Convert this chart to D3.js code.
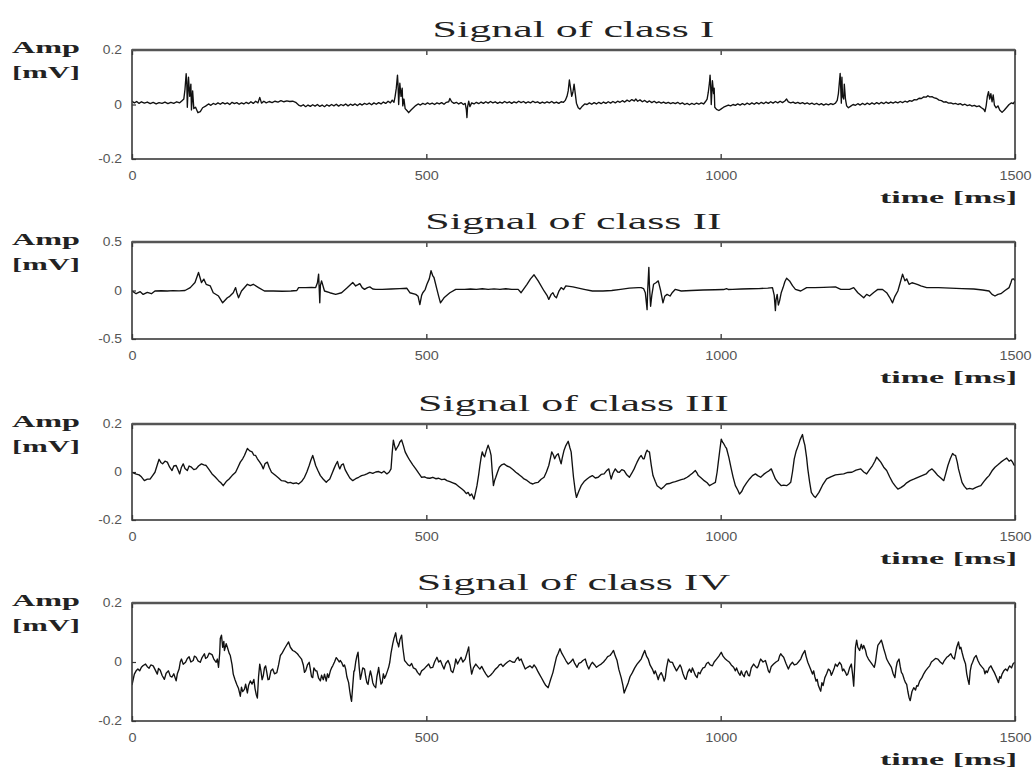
<!DOCTYPE html>
<html><head><meta charset="utf-8">
<script src="https://cdn.jsdelivr.net/npm/d3@7"></script>
<style>body{margin:0;background:#fff}svg{display:block}</style>
</head><body><svg id="c" width="1035" height="768"></svg>
<script>
// ---------- DATA ----------
const titles = ["Signal of class I", "Signal of class II", "Signal of class III", "Signal of class IV"];
const yLabelTop = "Amp";
const yLabelUnit = "[mV]";
const xLabel = "time [ms]";
const xTicks = [0, 500, 1000, 1500];
const xTickLabels = ["0", "500", "1000", "1500"];
const yDomains = [[-0.2, 0.2], [-0.5, 0.5], [-0.2, 0.2], [-0.2, 0.2]];
const yTicks = [[-0.2, 0, 0.2], [-0.5, 0, 0.5], [-0.2, 0, 0.2], [-0.2, 0, 0.2]];
const yTickLabels = [["-0.2", "0", "0.2"], ["-0.5", "0", "0.5"], ["-0.2", "0", "0.2"], ["-0.2", "0", "0.2"]];

// [time ms, amplitude mV]
const signalI = [[0,0.012],[4,0.006],[8,0.011],[12,0.004],[16,0.01],[21,0.005],[26,0.009],[31,0.003],[36,0.008],[41,0.002],[46,0.007],[51,0.004],[56,0.009],[61,0.003],[66,0.008],[71,0.004],[76,0.01],[81,0.006],[85,0.014],[88,0.02],[90,0.055],[92,0.113],[93,0.085],[94,-0.01],[96,0.1],[98,0.03],[100,0.075],[101,-0.02],[103,0.05],[105,-0.015],[108,-0.01],[112,-0.03],[116,-0.026],[120,-0.012],[125,-0.006],[130,0.002],[134,-0.003],[138,0.004],[142,0.0],[146,0.006],[150,0.001],[154,0.007],[158,0.002],[162,0.006],[166,0.0],[170,0.008],[174,0.003],[178,0.007],[182,0.001],[186,0.006],[190,0.002],[194,0.008],[198,0.003],[202,0.01],[206,0.004],[210,0.012],[214,0.006],[217,0.026],[220,0.005],[224,0.012],[228,0.006],[233,0.011],[238,0.007],[243,0.012],[248,0.009],[253,0.014],[258,0.01],[263,0.013],[268,0.011],[273,0.012],[278,0.008],[283,-0.002],[287,-0.006],[291,-0.001],[295,-0.008],[299,-0.002],[303,-0.007],[307,-0.001],[311,-0.006],[315,0.0],[319,-0.007],[323,-0.002],[327,-0.008],[331,-0.001],[335,-0.006],[339,0.0],[343,-0.005],[347,0.001],[351,-0.006],[355,0.0],[359,-0.004],[363,0.002],[367,-0.005],[371,0.001],[375,-0.003],[379,0.002],[383,-0.004],[387,0.003],[391,-0.002],[395,0.004],[399,0.0],[403,0.005],[407,-0.001],[411,0.006],[415,0.001],[419,0.007],[423,0.002],[427,0.009],[431,0.004],[435,0.012],[439,0.006],[442,0.016],[445,0.008],[447,0.03],[449,0.06],[451,0.108],[452,0.07],[453,0.0],[455,0.078],[457,0.03],[459,0.06],[460,-0.005],[462,0.02],[464,-0.015],[467,-0.022],[470,-0.03],[474,-0.02],[478,-0.012],[482,-0.004],[486,0.002],[490,-0.002],[494,0.004],[498,0.0],[502,0.006],[506,0.001],[510,0.005],[514,0.0],[518,0.006],[522,0.002],[526,0.007],[530,0.001],[534,0.008],[538,0.01],[540,0.022],[543,0.01],[547,0.004],[551,0.008],[555,0.002],[559,0.007],[563,0.0],[566,0.004],[568,-0.02],[569,-0.048],[570,-0.01],[572,0.012],[574,-0.008],[577,0.006],[581,0.002],[585,0.008],[589,0.003],[593,0.009],[597,0.004],[601,0.01],[605,0.005],[609,0.011],[613,0.006],[617,0.01],[621,0.004],[625,0.009],[629,0.005],[633,0.011],[637,0.006],[641,0.01],[645,0.004],[649,0.01],[653,0.006],[657,0.012],[661,0.007],[665,0.011],[669,0.005],[673,0.01],[677,0.006],[681,0.012],[685,0.007],[689,0.01],[693,0.004],[697,0.009],[701,0.005],[705,0.01],[709,0.006],[713,0.011],[717,0.005],[721,0.009],[725,0.004],[729,0.01],[733,0.008],[736,0.015],[739,0.03],[741,0.05],[743,0.09],[745,0.06],[747,0.03],[749,0.045],[751,0.075],[753,0.04],[755,0.005],[758,-0.012],[761,-0.017],[765,-0.006],[769,0.002],[773,0.0],[777,0.006],[781,0.001],[785,0.007],[789,0.002],[793,0.008],[797,0.003],[801,0.009],[805,0.004],[809,0.01],[813,0.005],[817,0.011],[821,0.006],[825,0.012],[829,0.008],[833,0.014],[837,0.009],[841,0.016],[845,0.011],[849,0.018],[853,0.013],[856,0.02],[859,0.012],[863,0.017],[867,0.01],[871,0.015],[875,0.008],[879,0.013],[883,0.007],[887,0.012],[891,0.006],[895,0.01],[899,0.005],[903,0.009],[907,0.004],[911,0.008],[915,0.003],[919,0.007],[923,0.003],[927,0.008],[931,0.002],[935,0.006],[939,0.0],[943,0.004],[947,-0.001],[951,0.004],[955,0.0],[959,0.005],[963,0.001],[967,0.006],[971,0.002],[974,0.01],[977,0.02],[979,0.045],[981,0.08],[982,0.108],[983,0.07],[984,0.0],[986,0.087],[988,0.04],[989,0.06],[990,-0.01],[993,-0.018],[997,-0.022],[1001,-0.016],[1005,-0.01],[1009,-0.006],[1013,-0.002],[1017,-0.005],[1021,0.0],[1025,-0.003],[1029,0.002],[1033,-0.002],[1037,0.003],[1041,-0.001],[1045,0.005],[1049,0.0],[1053,0.006],[1057,0.001],[1061,0.007],[1065,0.002],[1069,0.008],[1073,0.003],[1077,0.009],[1081,0.004],[1085,0.01],[1089,0.005],[1093,0.011],[1097,0.006],[1101,0.012],[1105,0.007],[1109,0.013],[1112,0.02],[1115,0.01],[1119,0.006],[1123,0.009],[1127,0.004],[1131,0.008],[1135,0.003],[1139,0.007],[1143,0.002],[1147,0.006],[1151,0.001],[1155,0.005],[1159,0.0],[1163,0.004],[1167,-0.001],[1171,0.003],[1175,-0.002],[1179,0.002],[1183,-0.001],[1187,0.003],[1191,0.0],[1195,0.005],[1198,0.015],[1200,0.04],[1202,0.09],[1203,0.114],[1204,0.06],[1205,0.005],[1206,0.1],[1207,0.03],[1209,0.02],[1210,0.075],[1212,0.02],[1214,-0.005],[1217,-0.012],[1221,-0.006],[1225,0.0],[1229,-0.003],[1233,0.003],[1237,-0.002],[1241,0.004],[1245,-0.001],[1249,0.005],[1253,0.0],[1257,0.006],[1261,0.001],[1265,0.007],[1269,0.002],[1273,0.008],[1277,0.003],[1281,0.009],[1285,0.004],[1289,0.009],[1293,0.005],[1297,0.01],[1301,0.006],[1305,0.011],[1309,0.007],[1313,0.012],[1317,0.009],[1321,0.014],[1325,0.012],[1329,0.018],[1333,0.017],[1337,0.023],[1341,0.022],[1345,0.028],[1349,0.027],[1352,0.032],[1355,0.028],[1359,0.029],[1363,0.024],[1367,0.022],[1371,0.016],[1375,0.014],[1379,0.009],[1383,0.01],[1387,0.005],[1391,0.006],[1395,0.002],[1399,0.004],[1403,0.0],[1407,0.003],[1411,-0.002],[1415,0.001],[1419,-0.004],[1423,-0.001],[1427,-0.006],[1431,-0.003],[1435,-0.008],[1439,-0.005],[1443,-0.012],[1447,-0.018],[1449,-0.026],[1451,-0.005],[1453,0.03],[1455,0.047],[1457,0.02],[1459,0.04],[1461,0.01],[1463,0.035],[1465,-0.002],[1468,-0.012],[1471,-0.005],[1474,-0.02],[1478,-0.029],[1482,-0.02],[1486,-0.01],[1490,0.0],[1494,0.006],[1497,0.003],[1500,0.012]];

const signalII = [[0,-0.005],[7,-0.033],[14,-0.012],[19,-0.04],[26,-0.019],[33,-0.033],[39,-0.005],[50,-0.003],[60,-0.005],[70,-0.002],[80,-0.004],[90,0.0],[99,0.03],[107,0.082],[113,0.186],[118,0.082],[122,0.117],[126,0.064],[133,0.047],[138,-0.023],[147,-0.057],[154,-0.127],[162,-0.075],[166,-0.06],[172,-0.023],[176,0.03],[178,-0.02],[181,-0.075],[186,-0.005],[196,0.064],[201,0.05],[206,0.064],[215,0.03],[225,-0.005],[240,-0.005],[255,-0.008],[270,-0.005],[280,0.0],[283,0.03],[295,0.03],[305,0.032],[312,0.03],[315,0.08],[317,0.169],[318,0.02],[319,-0.127],[320,0.05],[322,0.099],[327,-0.005],[336,-0.023],[346,-0.04],[356,-0.023],[366,0.03],[375,0.082],[380,0.047],[384,0.06],[387,0.071],[391,0.03],[395,0.012],[400,0.03],[404,0.037],[409,0.015],[414,0.012],[425,0.012],[440,0.015],[455,0.02],[467,0.023],[472,-0.023],[482,-0.04],[486,-0.06],[489,-0.145],[492,-0.05],[494,-0.023],[498,0.01],[501,0.064],[505,0.12],[508,0.204],[511,0.15],[513,0.134],[518,0.012],[521,-0.06],[524,-0.127],[530,-0.075],[540,-0.023],[550,0.012],[565,0.012],[575,0.015],[585,0.012],[595,0.018],[605,0.012],[615,0.016],[625,0.012],[635,0.018],[645,0.012],[656,0.012],[661,-0.023],[671,0.064],[677,0.12],[683,0.162],[690,0.099],[700,-0.005],[705,-0.05],[708,-0.092],[712,-0.04],[715,-0.023],[718,-0.06],[721,-0.075],[725,-0.01],[729,0.03],[733,0.01],[737,0.047],[749,0.037],[768,0.012],[782,-0.005],[800,-0.005],[815,0.0],[830,0.012],[845,0.025],[860,0.03],[865,0.03],[869,0.02],[872,-0.023],[875,-0.197],[876,0.0],[878,0.239],[879,0.05],[881,-0.162],[883,-0.05],[886,0.064],[890,0.08],[894,0.099],[898,0.0],[902,-0.127],[905,-0.06],[909,-0.04],[914,-0.057],[918,-0.02],[923,0.012],[933,-0.005],[950,0.0],[970,0.005],[990,0.008],[1005,0.01],[1010,0.02],[1013,0.01],[1020,0.012],[1035,0.015],[1050,0.018],[1065,0.02],[1080,0.025],[1088,0.03],[1091,-0.05],[1093,-0.207],[1094,-0.1],[1096,-0.04],[1098,-0.15],[1100,-0.11],[1103,-0.02],[1106,0.03],[1109,0.09],[1112,0.127],[1117,0.099],[1122,0.05],[1127,0.012],[1136,-0.005],[1146,0.03],[1160,0.03],[1175,0.032],[1195,0.037],[1204,0.012],[1219,0.012],[1226,0.03],[1233,-0.023],[1243,-0.075],[1248,-0.04],[1253,-0.057],[1260,-0.02],[1267,0.012],[1275,0.01],[1282,-0.023],[1287,-0.07],[1292,-0.127],[1296,-0.06],[1301,-0.005],[1305,0.08],[1309,0.169],[1313,0.099],[1316,0.12],[1320,0.064],[1325,0.08],[1330,0.071],[1335,0.06],[1340,0.047],[1350,0.03],[1370,0.03],[1390,0.025],[1410,0.02],[1430,0.015],[1445,0.005],[1456,-0.005],[1461,-0.04],[1466,-0.057],[1471,-0.04],[1476,-0.033],[1483,0.0],[1490,0.03],[1493,0.08],[1495,0.117],[1498,0.12],[1500,0.099]];

const signalIII = [[0,-0.001],[6,-0.008],[12,-0.012],[16,-0.02],[21,-0.036],[26,-0.03],[31,-0.029],[35,-0.015],[39,-0.001],[43,0.03],[46,0.053],[49,0.04],[52,0.034],[56,0.045],[60,0.041],[64,0.02],[68,0.006],[71,0.025],[75,0.027],[78,0.01],[81,-0.008],[84,0.02],[87,0.034],[90,0.015],[94,0.006],[97,0.025],[101,0.02],[105,0.01],[109,0.013],[113,0.025],[118,0.034],[122,0.03],[126,0.027],[131,0.01],[136,-0.008],[141,-0.02],[147,-0.036],[151,-0.045],[155,-0.057],[160,-0.04],[165,-0.029],[170,-0.015],[176,-0.001],[180,0.02],[184,0.041],[188,0.055],[191,0.069],[196,0.098],[200,0.088],[204,0.084],[207,0.07],[210,0.069],[213,0.055],[217,0.041],[220,0.03],[223,0.013],[226,0.035],[230,0.041],[233,0.02],[237,-0.001],[244,-0.015],[249,-0.025],[254,-0.036],[260,-0.038],[265,-0.045],[269,-0.043],[274,-0.048],[279,-0.045],[283,-0.05],[288,-0.04],[293,-0.022],[297,0.0],[301,0.027],[304,0.05],[307,0.069],[310,0.045],[312,0.027],[316,0.005],[320,-0.015],[325,-0.03],[330,-0.043],[333,-0.035],[336,-0.029],[340,-0.005],[343,0.013],[346,0.03],[349,0.044],[351,0.025],[353,0.013],[356,0.03],[359,0.034],[362,0.01],[366,-0.008],[370,-0.025],[375,-0.036],[380,-0.028],[385,-0.022],[390,-0.015],[395,-0.012],[399,-0.008],[404,-0.002],[409,-0.006],[414,0.0],[419,0.002],[424,-0.004],[428,0.003],[433,-0.008],[437,0.0],[440,0.013],[442,0.08],[444,0.133],[446,0.11],[448,0.091],[450,0.1],[453,0.112],[455,0.125],[458,0.133],[461,0.11],[464,0.084],[468,0.065],[472,0.048],[477,0.03],[482,0.013],[487,-0.005],[492,-0.022],[497,-0.02],[501,-0.025],[506,-0.026],[511,-0.022],[516,-0.028],[521,-0.026],[526,-0.032],[531,-0.03],[535,-0.036],[540,-0.04],[545,-0.045],[550,-0.05],[555,-0.06],[560,-0.07],[564,-0.078],[568,-0.09],[571,-0.085],[574,-0.099],[577,-0.092],[581,-0.113],[584,-0.08],[586,-0.057],[589,-0.01],[591,0.027],[593,0.06],[595,0.084],[597,0.07],[599,0.063],[602,0.09],[605,0.112],[608,0.09],[610,0.069],[612,0.0],[614,-0.057],[616,-0.035],[618,-0.022],[621,0.0],[624,0.02],[628,0.03],[632,0.034],[637,0.025],[642,0.02],[647,0.01],[652,-0.001],[657,-0.01],[662,-0.02],[666,-0.029],[671,-0.035],[676,-0.045],[681,-0.05],[685,-0.045],[690,-0.043],[695,-0.03],[700,-0.022],[704,0.0],[708,0.027],[711,0.06],[713,0.084],[716,0.07],[718,0.055],[721,0.07],[724,0.076],[727,0.05],[729,0.034],[731,0.06],[734,0.091],[737,0.11],[741,0.128],[744,0.1],[746,0.084],[748,0.03],[750,-0.022],[753,-0.08],[755,-0.106],[759,-0.08],[763,-0.057],[768,-0.04],[773,-0.029],[778,-0.02],[782,-0.015],[787,-0.025],[792,-0.022],[797,-0.01],[802,-0.008],[806,0.005],[810,0.013],[812,-0.01],[814,-0.029],[817,-0.005],[821,0.013],[825,0.0],[828,-0.001],[832,0.01],[836,0.006],[840,-0.01],[845,-0.022],[849,-0.005],[853,0.013],[856,0.03],[858,0.041],[862,0.06],[865,0.069],[868,0.055],[870,0.055],[873,0.08],[875,0.091],[877,0.085],[879,0.084],[882,0.03],[885,-0.015],[889,-0.04],[892,-0.057],[896,-0.065],[899,-0.071],[904,-0.06],[908,-0.05],[913,-0.048],[918,-0.043],[923,-0.04],[928,-0.036],[933,-0.032],[938,-0.029],[943,-0.022],[947,-0.015],[952,-0.005],[957,0.006],[960,-0.005],[962,-0.015],[967,-0.025],[972,-0.036],[977,-0.045],[981,-0.057],[986,-0.05],[991,-0.043],[994,0.0],[996,0.041],[999,0.1],[1001,0.137],[1003,0.125],[1005,0.119],[1008,0.105],[1010,0.098],[1014,0.06],[1018,0.013],[1021,-0.02],[1025,-0.057],[1029,-0.075],[1032,-0.092],[1036,-0.08],[1039,-0.064],[1044,-0.045],[1049,-0.029],[1054,-0.015],[1059,-0.008],[1063,-0.015],[1068,-0.022],[1073,-0.01],[1078,-0.001],[1082,0.005],[1086,0.013],[1089,-0.005],[1093,-0.029],[1098,-0.045],[1103,-0.057],[1107,-0.055],[1112,-0.057],[1116,-0.05],[1119,-0.043],[1122,0.0],[1125,0.055],[1128,0.085],[1132,0.112],[1135,0.135],[1139,0.156],[1141,0.13],[1143,0.112],[1146,0.06],[1148,0.013],[1151,-0.04],[1154,-0.085],[1158,-0.1],[1161,-0.106],[1164,-0.095],[1167,-0.085],[1173,-0.055],[1180,-0.029],[1187,-0.02],[1195,-0.012],[1202,-0.01],[1209,-0.008],[1216,-0.002],[1223,-0.001],[1230,0.008],[1238,0.013],[1243,0.0],[1248,-0.008],[1253,0.01],[1258,0.027],[1262,0.045],[1265,0.062],[1269,0.05],[1272,0.041],[1277,0.02],[1282,0.006],[1287,-0.02],[1292,-0.043],[1297,-0.06],[1301,-0.071],[1306,-0.065],[1311,-0.057],[1316,-0.045],[1322,-0.036],[1328,-0.03],[1335,-0.022],[1342,-0.015],[1349,-0.008],[1354,0.005],[1359,0.013],[1364,0.0],[1369,-0.015],[1374,-0.025],[1379,-0.036],[1382,-0.01],[1386,0.027],[1390,0.055],[1394,0.077],[1397,0.07],[1399,0.069],[1402,0.04],[1404,0.013],[1407,-0.015],[1410,-0.043],[1414,-0.06],[1418,-0.071],[1423,-0.068],[1428,-0.071],[1433,-0.065],[1438,-0.06],[1442,-0.057],[1447,-0.04],[1452,-0.025],[1456,-0.015],[1461,0.005],[1466,0.02],[1471,0.03],[1476,0.041],[1481,0.05],[1486,0.058],[1490,0.045],[1493,0.05],[1496,0.041],[1498,0.03],[1500,0.027]];

const signalIV = [[0,-0.078],[3,-0.05],[4,-0.041],[7,-0.03],[10,-0.024],[13,-0.03],[16,-0.018],[19,-0.012],[23,-0.007],[26,-0.016],[29,-0.021],[32,-0.01],[36,-0.013],[39,-0.025],[43,-0.041],[45,-0.022],[48,-0.028],[51,-0.045],[55,-0.059],[58,-0.038],[62,-0.03],[65,-0.048],[68,-0.051],[71,-0.04],[75,-0.064],[77,-0.04],[80,-0.024],[82,0.0],[84,0.01],[87,-0.008],[91,-0.001],[94,0.012],[97,0.018],[100,0.0],[104,0.005],[106,0.02],[109,0.016],[112,0.004],[116,-0.001],[119,0.015],[123,0.028],[125,0.012],[128,0.016],[131,0.03],[136,0.025],[139,0.01],[143,-0.001],[145,0.01],[147,-0.018],[149,0.03],[150,0.08],[152,0.091],[154,0.05],[156,0.07],[157,0.039],[160,0.062],[162,0.05],[165,0.03],[167,0.022],[170,-0.01],[172,-0.041],[175,-0.06],[178,-0.076],[181,-0.09],[184,-0.116],[186,-0.085],[188,-0.1],[191,-0.093],[193,-0.075],[196,-0.105],[198,-0.08],[201,-0.064],[204,-0.075],[207,-0.059],[209,-0.09],[211,-0.11],[213,-0.122],[215,-0.05],[217,-0.007],[219,-0.03],[221,-0.06],[223,-0.047],[225,-0.02],[227,-0.013],[229,-0.035],[231,-0.06],[233,-0.059],[236,-0.03],[239,-0.024],[242,-0.04],[246,-0.036],[249,-0.01],[252,0.022],[255,0.03],[259,0.045],[262,0.055],[266,0.068],[269,0.05],[273,0.039],[277,0.035],[281,0.028],[284,0.02],[288,0.01],[291,-0.01],[293,-0.035],[295,-0.03],[298,-0.01],[301,-0.001],[303,-0.025],[305,-0.05],[307,-0.053],[309,-0.02],[312,-0.03],[314,-0.03],[317,-0.055],[320,-0.064],[322,-0.045],[325,-0.06],[327,-0.041],[330,-0.065],[332,-0.04],[334,-0.053],[337,-0.03],[339,-0.02],[341,-0.013],[344,0.0],[347,0.015],[349,0.01],[352,0.0],[354,0.005],[356,-0.001],[359,-0.015],[361,-0.01],[363,-0.024],[365,-0.05],[368,-0.07],[370,-0.1],[372,-0.125],[373,-0.133],[375,-0.08],[377,-0.03],[378,-0.03],[380,0.0],[382,0.02],[384,0.033],[386,-0.02],[388,-0.059],[390,-0.04],[392,-0.02],[395,-0.024],[397,-0.05],[399,-0.07],[401,-0.076],[403,-0.05],[405,-0.03],[407,-0.047],[409,-0.07],[411,-0.08],[414,-0.087],[416,-0.05],[418,-0.03],[419,-0.018],[421,-0.05],[423,-0.075],[425,-0.07],[427,-0.04],[429,-0.055],[431,-0.047],[434,-0.03],[436,-0.018],[438,0.0],[440,0.03],[443,0.062],[445,0.08],[448,0.099],[450,0.07],[452,0.06],[453,0.051],[455,0.075],[458,0.091],[460,0.05],[463,0.005],[466,-0.002],[469,-0.01],[472,-0.013],[475,-0.005],[478,-0.02],[482,-0.024],[485,-0.035],[489,-0.044],[492,-0.03],[496,-0.024],[500,-0.015],[504,-0.007],[507,-0.02],[511,-0.018],[514,0.0],[518,0.016],[521,0.0],[524,0.005],[527,-0.01],[530,-0.024],[533,-0.005],[537,0.005],[540,-0.01],[542,-0.03],[545,-0.036],[548,-0.015],[550,0.01],[553,-0.007],[556,0.005],[559,0.016],[562,0.0],[566,0.01],[569,0.03],[572,0.051],[574,0.0],[577,-0.041],[580,-0.02],[584,-0.007],[587,-0.015],[591,-0.024],[594,-0.015],[598,-0.03],[601,-0.04],[605,-0.051],[609,-0.045],[613,-0.036],[617,-0.025],[621,-0.018],[624,-0.01],[627,-0.007],[630,-0.015],[634,-0.007],[638,0.0],[642,0.005],[646,0.0],[650,-0.001],[653,0.01],[656,0.016],[658,0.005],[661,0.01],[664,-0.005],[668,-0.024],[672,-0.018],[676,-0.013],[680,-0.02],[683,-0.01],[686,-0.018],[689,-0.03],[692,-0.041],[696,-0.055],[700,-0.07],[703,-0.08],[707,-0.087],[711,-0.06],[715,-0.036],[718,-0.01],[721,0.016],[724,0.03],[727,0.045],[730,0.03],[734,0.016],[737,0.005],[741,-0.007],[745,0.0],[749,0.01],[752,-0.005],[756,-0.018],[759,-0.005],[763,-0.001],[766,0.005],[770,0.01],[773,-0.01],[776,-0.024],[779,-0.01],[782,-0.001],[786,-0.01],[789,-0.018],[793,-0.012],[797,-0.007],[801,0.0],[805,0.01],[808,0.018],[812,0.022],[815,0.03],[818,0.039],[821,0.02],[824,0.005],[827,-0.025],[831,-0.053],[834,-0.08],[836,-0.105],[839,-0.09],[843,-0.07],[846,-0.05],[850,-0.036],[854,-0.02],[858,-0.007],[861,0.0],[865,0.01],[868,0.025],[871,0.039],[874,0.02],[877,0.01],[880,-0.01],[884,-0.024],[887,-0.04],[889,-0.03],[892,-0.047],[894,-0.06],[896,-0.045],[899,-0.036],[902,-0.05],[904,-0.065],[906,-0.053],[908,-0.02],[911,0.01],[914,0.0],[918,-0.001],[921,-0.015],[925,-0.03],[928,-0.02],[931,-0.01],[933,-0.018],[936,-0.04],[939,-0.055],[941,-0.059],[944,-0.035],[947,-0.024],[950,-0.035],[952,-0.02],[954,-0.03],[957,-0.045],[960,-0.053],[962,-0.035],[965,-0.04],[967,-0.03],[970,-0.02],[973,-0.018],[976,-0.005],[979,-0.001],[982,-0.01],[986,-0.013],[989,0.0],[993,0.01],[997,0.02],[1001,0.033],[1004,0.02],[1008,0.01],[1011,0.005],[1015,-0.001],[1018,-0.01],[1022,-0.018],[1025,-0.03],[1027,-0.02],[1030,-0.036],[1033,-0.045],[1035,-0.03],[1037,-0.041],[1040,-0.05],[1042,-0.035],[1044,-0.03],[1047,-0.045],[1049,-0.047],[1052,-0.02],[1056,-0.007],[1059,-0.015],[1062,-0.02],[1064,-0.013],[1066,0.0],[1068,0.01],[1072,0.0],[1076,0.005],[1079,-0.015],[1081,-0.03],[1083,-0.036],[1086,-0.015],[1090,-0.007],[1094,0.0],[1098,0.005],[1100,0.02],[1102,0.028],[1105,0.02],[1107,0.016],[1111,-0.005],[1115,-0.024],[1118,-0.01],[1122,-0.001],[1125,-0.01],[1129,-0.007],[1132,0.0],[1136,0.01],[1139,0.025],[1143,0.039],[1145,0.02],[1148,-0.001],[1152,-0.02],[1156,-0.041],[1158,-0.03],[1160,-0.05],[1162,-0.065],[1164,-0.059],[1166,-0.08],[1168,-0.09],[1170,-0.099],[1172,-0.07],[1174,-0.08],[1177,-0.053],[1180,-0.04],[1183,-0.024],[1186,-0.03],[1188,-0.045],[1190,-0.036],[1193,-0.02],[1195,-0.007],[1198,-0.015],[1202,-0.001],[1205,-0.01],[1207,-0.03],[1209,-0.024],[1212,-0.035],[1214,-0.045],[1216,-0.041],[1219,-0.02],[1222,-0.007],[1224,-0.04],[1226,-0.082],[1228,0.0],[1229,0.05],[1231,0.074],[1233,0.05],[1236,0.039],[1239,0.06],[1241,0.045],[1243,0.056],[1246,0.04],[1248,0.022],[1251,0.01],[1255,-0.001],[1258,-0.01],[1261,-0.018],[1263,0.0],[1265,0.03],[1267,0.056],[1270,0.065],[1273,0.074],[1275,0.06],[1277,0.045],[1280,0.025],[1282,0.01],[1286,-0.005],[1290,-0.018],[1293,-0.04],[1296,-0.053],[1298,-0.02],[1300,0.0],[1303,0.01],[1305,-0.015],[1307,-0.035],[1309,-0.041],[1312,-0.06],[1314,-0.07],[1316,-0.076],[1318,-0.1],[1320,-0.12],[1322,-0.131],[1325,-0.1],[1328,-0.087],[1331,-0.095],[1333,-0.08],[1335,-0.082],[1338,-0.065],[1342,-0.053],[1345,-0.04],[1348,-0.03],[1352,-0.02],[1355,-0.013],[1358,0.0],[1361,0.005],[1365,0.012],[1369,0.01],[1373,0.0],[1377,-0.007],[1380,0.005],[1384,0.016],[1387,0.02],[1391,0.028],[1394,0.015],[1397,0.01],[1399,0.03],[1401,0.05],[1404,0.068],[1406,0.045],[1408,0.05],[1410,0.033],[1413,0.01],[1416,-0.007],[1418,-0.04],[1420,-0.06],[1422,-0.076],[1424,-0.03],[1426,-0.01],[1428,-0.001],[1431,0.015],[1434,0.022],[1437,0.005],[1440,-0.007],[1443,-0.015],[1447,-0.024],[1449,-0.04],[1451,-0.03],[1453,-0.036],[1456,-0.02],[1459,-0.013],[1462,-0.025],[1465,-0.036],[1468,-0.05],[1470,-0.06],[1472,-0.07],[1474,-0.05],[1476,-0.055],[1478,-0.041],[1481,-0.03],[1484,-0.024],[1487,-0.03],[1489,-0.02],[1491,-0.013],[1494,-0.02],[1497,-0.005],[1500,-0.001]];

const signals = [signalI, signalII, signalIII, signalIV];

// ---------- LAYOUT ----------
const W = 1035, H = 768;
const left = 132, right = 1015;
const boxes = [{top: 50, bottom: 159}, {top: 242, bottom: 339}, {top: 424, bottom: 520}, {top: 603, bottom: 721}];
const serif = "'Liberation Serif','DejaVu Serif',serif";
const sans = "'Liberation Sans',Arial,sans-serif";

const svg = d3.select("#c");
svg.append("rect").attr("width", W).attr("height", H).attr("fill", "#fff");

const x = d3.scaleLinear().domain([0, 1500]).range([left, right]);

function stretch(sel, factor) {
  sel.each(function () {
    const w = this.getComputedTextLength();
    d3.select(this).attr("textLength", w * factor).attr("lengthAdjust", "spacingAndGlyphs");
  });
}

boxes.forEach((b, i) => {
  const y = d3.scaleLinear().domain(yDomains[i]).range([b.bottom, b.top]);
  const g = svg.append("g");

  const clipId = "clip" + i;
  svg.append("clipPath").attr("id", clipId)
    .append("rect").attr("x", left).attr("y", b.top).attr("width", right - left).attr("height", b.bottom - b.top);

  const xb = g.append("g").attr("transform", `translate(0,${b.bottom})`)
    .call(d3.axisBottom(x).tickValues(xTicks).tickFormat((d, k) => xTickLabels[k]).tickSizeInner(-5).tickSizeOuter(0).tickPadding(12));
  xb.select(".domain").remove();
  xb.selectAll("line").attr("stroke", "#333").attr("stroke-width", 1.3);
  xb.selectAll("text").attr("font-family", sans).attr("font-size", 12).attr("fill", "#555");
  stretch(xb.selectAll("text"), 1.2);

  const xt = g.append("g").attr("transform", `translate(0,${b.top})`)
    .call(d3.axisTop(x).tickValues(xTicks).tickFormat("").tickSizeInner(-5).tickSizeOuter(0));
  xt.select(".domain").remove();
  xt.selectAll("line").attr("stroke", "#333").attr("stroke-width", 1.3);

  const ya = g.append("g").attr("transform", `translate(${left},0)`)
    .call(d3.axisLeft(y).tickValues(yTicks[i]).tickFormat((d, k) => yTickLabels[i][k]).tickSizeInner(-4).tickSizeOuter(0).tickPadding(10));
  ya.select(".domain").remove();
  ya.selectAll("line").attr("stroke", "#333").attr("stroke-width", 1.2);
  ya.selectAll("text").attr("font-family", sans).attr("font-size", 12).attr("fill", "#555");
  stretch(ya.selectAll("text"), 1.15);

  g.append("path").datum(signals[i])
    .attr("clip-path", `url(#${clipId})`)
    .attr("fill", "none").attr("stroke", "#111").attr("stroke-width", 1.35).attr("stroke-linejoin", "round")
    .attr("d", d3.line().x(d => x(d[0])).y(d => y(d[1])));

  g.append("rect").attr("x", left).attr("y", b.top).attr("width", right - left).attr("height", b.bottom - b.top)
    .attr("fill", "none").attr("stroke", "#3a3a3a").attr("stroke-width", 1.6);
  g.append("line").attr("x1", left).attr("x2", right).attr("y1", b.top).attr("y2", b.top)
    .attr("stroke", "#555").attr("stroke-width", 2.4);

  const t = g.append("text").attr("x", (left + right) / 2).attr("y", b.top - 13)
    .attr("text-anchor", "middle").attr("font-family", serif).attr("font-size", 24).attr("fill", "#222").text(titles[i]);
  stretch(t, 1.83);

  g.append("text").attr("x", 12).attr("y", b.top + 3).attr("font-family", serif).attr("font-weight", "bold")
    .attr("font-size", 17).attr("fill", "#222").attr("textLength", 68).attr("lengthAdjust", "spacingAndGlyphs").text(yLabelTop);
  g.append("text").attr("x", 12).attr("y", b.top + 28).attr("font-family", serif).attr("font-weight", "bold")
    .attr("font-size", 17).attr("fill", "#222").attr("textLength", 68).attr("lengthAdjust", "spacingAndGlyphs").text(yLabelUnit);

  g.append("text").attr("x", 1017).attr("y", b.bottom + 44).attr("text-anchor", "end").attr("font-family", serif)
    .attr("font-weight", "bold").attr("font-size", 17).attr("fill", "#222")
    .attr("textLength", 137).attr("lengthAdjust", "spacingAndGlyphs").text(xLabel);
});
</script>
</body></html>
